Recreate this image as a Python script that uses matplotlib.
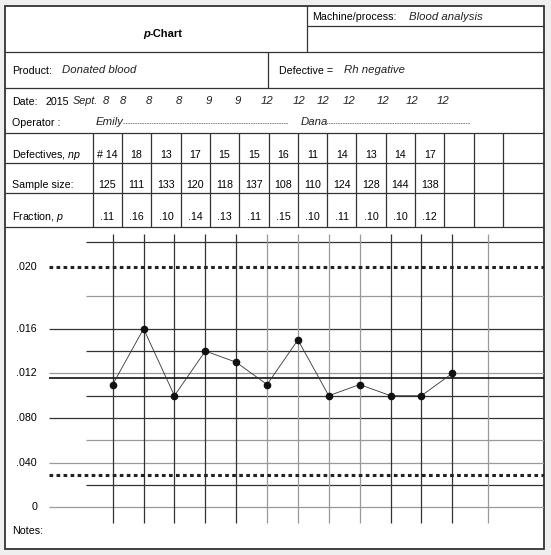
import matplotlib.pyplot as plt
from matplotlib.patches import Rectangle

plt.rcParams['font.family'] = ['Liberation Sans', 'DejaVu Sans']
plt.rcParams['mathtext.fontset'] = 'custom'
plt.rcParams['mathtext.it'] = 'Liberation Sans:italic'
plt.rcParams['mathtext.rm'] = 'Liberation Sans'

defectives = ['# 14', '18', '13', '17', '15', '15', '16', '11', '14', '13', '14', '17']
sample_size = ['125', '111', '133', '120', '118', '137', '108', '110', '124', '128', '144', '138']
fraction = [0.11, 0.16, 0.10, 0.14, 0.13, 0.11, 0.15, 0.10, 0.11, 0.10, 0.10, 0.12]
fraction_labels = ['.11', '.16', '.10', '.14', '.13', '.11', '.15', '.10', '.11', '.10', '.10', '.12']
dates = ['8', '8', '8', '8', '9', '9', '12', '12', '12', '12', '12', '12', '12']
ucl = 0.215
center = 0.116
lcl = 0.029
tick_values = [0, 0.04, 0.08, 0.12, 0.16, 0.215]
tick_labels = ['0', '.040', '.080', '.012', '.016', '.020']
grid_values = [0, 0.02, 0.04, 0.06, 0.08, 0.10, 0.12, 0.14, 0.16, 0.189, 0.2375]
grid_dark = [False, True, False, False, True, True, False, True, True, False, True]
vline_pos = [1, 2, 3, 4, 5, 6, 7, 8, 9, 10, 11, 12, 13.15]
vline_dark = [True, True, True, True, True, False, False, False, False, True, True, True, False]

# ---- layout (pixels) ----
W, H = 551, 555
L, R, T, B = 5, 544, 6, 549
FS = 7.7
hand = dict(style='italic', fontsize=8.2, color='#222')

fig = plt.figure(figsize=(W / 100, H / 100), dpi=100, facecolor='#efefef')
form = fig.add_axes([0, 0, 1, 1])
form.set_xlim(0, W)
form.set_ylim(H, 0)
form.axis('off')

form.add_patch(Rectangle((L, T), R - L, B - T, facecolor='white', edgecolor='#333', lw=1.3))

def hline(y, x0=L, x1=R, c='#333', lw=0.9):
    form.plot([x0, x1], [y, y], color=c, lw=lw, solid_capstyle='butt')

def vline(x, y0, y1, c='#333', lw=0.9):
    form.plot([x, x], [y0, y1], color=c, lw=lw, solid_capstyle='butt')

# header boxes
hline(52)
vline(307, T, 52)
hline(26, 307, R)
hline(88)
vline(268, 52, 88)
form.text(150, 34, 'p', fontsize=8, weight='bold', style='italic', ha='right', va='center')
form.text(150, 34, '-Chart', fontsize=8, weight='bold', ha='left', va='center')
form.text(312, 17, 'Machine/process:', fontsize=FS, va='center')
form.text(409, 17, 'Blood analysis', va='center', **hand)
form.text(12, 71, 'Product:', fontsize=FS, va='center')
form.text(62, 70, 'Donated blood', va='center', **hand)
form.text(279, 71, 'Defective =', fontsize=FS, va='center')
form.text(344, 70, 'Rh negative', va='center', **hand)

# date / operator
form.text(12, 102, 'Date:', fontsize=FS, va='center')
form.text(46, 102, '2015', fontsize=FS, va='center')
form.text(73, 101, 'Sept.', va='center', style='italic', fontsize=7.8, color='#222')
date_x = [106, 123, 149, 179, 209, 238, 267, 299, 323, 349, 383, 412, 443]
for x, d in zip(date_x, dates):
    form.text(x, 101, d, ha='center', va='center', **hand)
form.text(12, 123, 'Operator :', fontsize=FS, va='center')
form.text(96, 122, 'Emily', va='center', **hand)
form.plot([123, 288], [123, 123], color='#555', lw=0.5, ls=(0, (2.2, 1.2)))
form.text(301, 122, 'Dana', va='center', **hand)
form.plot([326, 470], [123, 123], color='#555', lw=0.5, ls=(0, (2.2, 1.2)))

# table
for y in (133, 163, 193, 227):
    hline(y)
col0, colw = 92.7, 29.3
for k in range(15):
    vline(col0 + k * colw, 133, 227)
form.text(12, 155, 'Defectives, $\\it{np}$', fontsize=FS, va='center')
form.text(12, 185, 'Sample size:', fontsize=FS, va='center')
form.text(12, 217, 'Fraction, $\\it{p}$', fontsize=FS, va='center')
for k in range(12):
    cx = col0 + colw * (k + 0.5)
    form.text(cx, 155, defectives[k], fontsize=FS, ha='center', va='center')
    form.text(cx, 185, sample_size[k], fontsize=FS, ha='center', va='center')
    form.text(cx, 217, fraction_labels[k], fontsize=FS, ha='center', va='center')

form.text(12, 531, 'Notes:', fontsize=FS, va='center')

# ---- chart area ----
X0, DX = 112.7, 30.87
Y0, SY = 507.3, 1116.0

def px_x(px):
    return 1 + (px - X0) / DX

def px_y(py):
    return (Y0 - py) / SY

top, bot = 227, B
ax = fig.add_axes([L / W, 1 - bot / H, (R - L) / W, (bot - top) / H])
ax.patch.set_alpha(0)
ax.axis('off')
ax.set_xlim(px_x(L), px_x(R))
ax.set_ylim(px_y(bot), px_y(top))

for v, dark in zip(grid_values, grid_dark):
    labelled = any(abs(v - t) < 1e-6 for t in tick_values)
    x0 = px_x(49) if labelled else px_x(86)
    ax.hlines(v, x0, px_x(R), color='#333' if dark else '#999', lw=0.9)
for x, dark in zip(vline_pos, vline_dark):
    ax.vlines(x, px_y(523), px_y(234), color='#333' if dark else '#999', lw=0.9)

for v, lab in zip(tick_values, tick_labels):
    ax.text(px_x(37), v, lab, fontsize=FS, ha='right', va='center')

ax.hlines([ucl, lcl], px_x(49), px_x(R), color='#222', lw=2.2,
          linestyles=[(0, (1.2, 1.1))])
ax.hlines(center, px_x(49), px_x(R), color='#111', lw=1.2)

samples = list(range(1, len(fraction) + 1))
ax.plot(samples, fraction, color='#333', lw=0.6, marker='o', ms=4.5,
        mfc='#111', mec='#111', zorder=5)

fig.savefig('out.png', dpi=100, facecolor=fig.get_facecolor())
